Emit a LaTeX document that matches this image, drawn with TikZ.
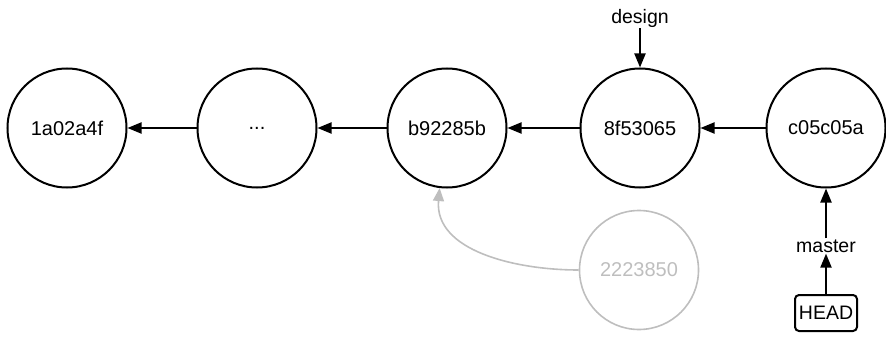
\documentclass[tikz,border=0pt]{standalone}
\usepackage{fontspec}
\setmainfont{Liberation Sans}
\usetikzlibrary{arrows.meta}
\definecolor{ghost}{RGB}{190,190,190}
\tikzset{
  commit/.style={circle, draw, line width=2pt, minimum size=119pt, inner sep=0pt, font=\fontsize{20}{22}\selectfont},
  ghostcommit/.style={commit, draw=ghost, line width=1.6pt, text=ghost},
  ref/.style={inner sep=1pt, font=\fontsize{19.5}{22}\selectfont},
  headbox/.style={draw, line width=2pt, rounded corners=4pt, minimum width=62pt, minimum height=36pt, inner sep=2pt, font=\fontsize{19.5}{22}\selectfont},
  link/.style={line width=2pt, -{Triangle[length=14pt,width=11pt]}},
  ghostlink/.style={line width=1.6pt, draw=ghost, -{Triangle[length=13pt,width=11pt]}, color=ghost},
}
\begin{document}
\begin{tikzpicture}[x=1pt,y=-1pt]
\useasboundingbox (0,0) rectangle (886,337);
\node[commit] (c1) at (67,128) {1a02a4f};
\node[commit] (c2) at (257,128) {...};
\node[commit] (c3) at (447,128) {b92285b};
\node[commit] (c4) at (640,128) {8f53065};
\node[commit] (c5) at (826,128) {c05c05a};
\node[ghostcommit] (g) at (639,270) {2223850};
\node[ref] (design) at (640,18) {design};
\node[ref] (master) at (826,246) {master};
\node[headbox] (head) at (826,313) {HEAD};
\draw[link] (c2) -- (c1);
\draw[link] (c3) -- (c2);
\draw[link] (c4) -- (c3);
\draw[link] (c5) -- (c4);
\draw[link] (design) -- (c4);
\draw[link] (master) -- (c5);
\draw[link] (head) -- (master);
\draw[ghostlink] (g.west) to[out=180, in=-95] (c3.-97);
\end{tikzpicture}
\end{document}
